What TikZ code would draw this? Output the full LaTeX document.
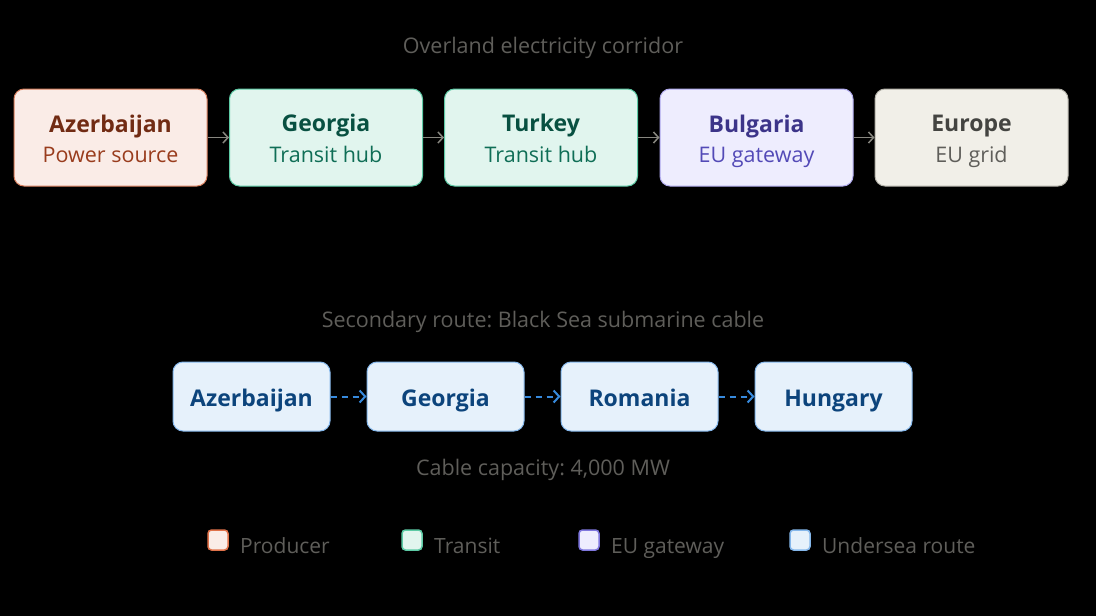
\documentclass[tikz,border=0pt]{standalone}
\usepackage{fontspec}
\setmainfont{Open Sans}
\frenchspacing
\usetikzlibrary{arrows.meta}
\definecolor{bg}{HTML}{000000}
\definecolor{capc}{HTML}{5F5E5A}
\definecolor{prodF}{HTML}{FAECE7}\definecolor{prodD}{HTML}{D8805F}\definecolor{prodT}{HTML}{712B13}\definecolor{prodTS}{HTML}{993C1D}
\definecolor{tranF}{HTML}{E1F5EE}\definecolor{tranD}{HTML}{5DCAA5}\definecolor{tranT}{HTML}{085041}\definecolor{tranTS}{HTML}{0F6E56}
\definecolor{gateF}{HTML}{EEEDFE}\definecolor{gateD}{HTML}{AFA9EC}\definecolor{gateT}{HTML}{3C3489}\definecolor{gateTS}{HTML}{534AB7}
\definecolor{gridF}{HTML}{F1EFE8}\definecolor{gridD}{HTML}{B4B2A9}\definecolor{gridT}{HTML}{444441}\definecolor{gridTS}{HTML}{5F5E5A}
\definecolor{seaF}{HTML}{E6F1FB}\definecolor{seaD}{HTML}{85B7EB}\definecolor{seaT}{HTML}{0C447C}
\definecolor{arrG}{HTML}{888780}\definecolor{arrB}{HTML}{378ADD}
\definecolor{lprodD}{HTML}{E0724A}\definecolor{ltranD}{HTML}{5DCAA5}\definecolor{lgateD}{HTML}{7F77DD}\definecolor{lseaD}{HTML}{85B7EB}
\tikzset{
  topbox/.style={draw=#1D, fill=#1F, line width=1pt, rounded corners=10pt, minimum width=193pt, minimum height=97pt, inner sep=0pt, align=center},
  seabox/.style={draw=seaD, fill=seaF, line width=1pt, rounded corners=10pt, minimum width=157pt, minimum height=69pt, inner sep=0pt, text=seaT, font=\fontsize{23}{26}\selectfont\bfseries, text height=22.5pt, text depth=3.5pt},
  captext/.style={text=capc, font=\fontsize{21.5}{24}\selectfont, inner sep=0pt},
  garr/.style={draw=arrG, line width=1.5pt, -{Straight Barb[length=5pt,width=11pt]}},
  barr/.style={draw=arrB, line width=2pt, dash pattern=on 6pt off 5pt, -{Straight Barb[length=5.5pt,width=12pt]}},
  legsq/.style={draw=l#1D, fill=#1F, line width=1.5pt, rounded corners=3.5pt, minimum size=20pt, inner sep=0pt},
  legtx/.style={text=capc, font=\fontsize{21}{24}\selectfont, anchor=base west, inner sep=0pt},
}
\newcommand{\boxtext}[3]{{\color{#1}\fontsize{23}{26}\selectfont\bfseries\rule{0pt}{25pt}\vphantom{Agy}#2}\\[8pt]{\color{#1S}\fontsize{21.5}{24}\selectfont\vphantom{Agy}#3}}
\begin{document}
\begin{tikzpicture}[x=1pt,y=-1pt]
\useasboundingbox[fill=bg] (0,0) rectangle (1096,616);
\node[captext] (t1) at (543,48) {Overland electricity corridor};
\node[topbox=prod] (az) at (110.5,137.5) {\boxtext{prodT}{Azerbaijan}{Power source}};
\node[topbox=tran] (ge) at (326,137.5) {\boxtext{tranT}{Georgia}{Transit hub}};
\node[topbox=tran] (tu) at (541,137.5) {\boxtext{tranT}{Turkey}{Transit hub}};
\node[topbox=gate] (bu) at (756.5,137.5) {\boxtext{gateT}{Bulgaria}{EU gateway}};
\node[topbox=grid] (eu) at (971.5,137.5) {\boxtext{gridT}{Europe}{EU grid}};
\draw[garr] (az) -- (ge);
\draw[garr] (ge) -- (tu);
\draw[garr] (tu) -- (bu);
\draw[garr] (bu) -- (eu);
\node[captext] (t2) at (543,322) {Secondary route: Black Sea submarine cable};
\node[seabox] (s1) at (251.5,396.5) {Azerbaijan};
\node[seabox] (s2) at (445.5,396.5) {Georgia};
\node[seabox] (s3) at (639.5,396.5) {Romania};
\node[seabox] (s4) at (833.5,396.5) {Hungary};
\draw[barr] (s1) -- (s2);
\draw[barr] (s2) -- (s3);
\draw[barr] (s3) -- (s4);
\node[captext] (t3) at (543,470) {Cable capacity: 4,000 MW};
\node[legsq=prod] (l1) at (218,540) {};
\node[legtx] (l1t) at (240,553) {Producer};
\node[legsq=tran] (l2) at (412,540) {};
\node[legtx] (l2t) at (434,553) {Transit};
\node[legsq=gate] (l3) at (589,540) {};
\node[legtx] (l3t) at (611,553) {EU gateway};
\node[legsq=sea] (l4) at (800,540) {};
\node[legtx] (l4t) at (822,553) {Undersea route};
\end{tikzpicture}
\end{document}
